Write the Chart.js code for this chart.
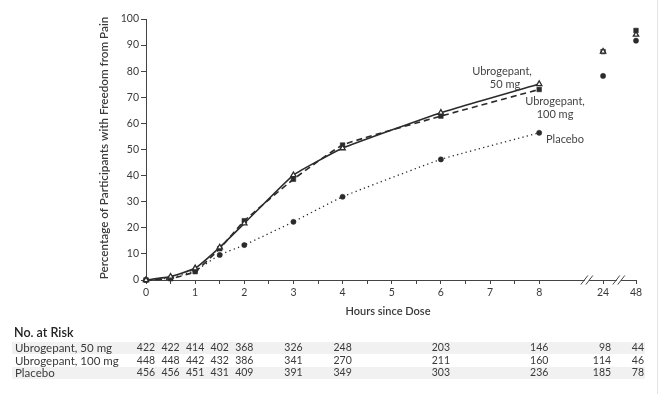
<!DOCTYPE html>
<html>
<head>
<meta charset="utf-8">
<title>Freedom from Pain</title>
<script src="https://cdn.jsdelivr.net/npm/chart.js@4.4.1/dist/chart.umd.min.js"></script>
<style>
    html, body { margin: 0; padding: 0; background: #fff; }
    #wrap { position: relative; width: 660px; height: 394px; }
    #edge { position: absolute; right: 2px; top: 0; width: 1px; height: 394px; background: #e4e4e4; }
</style>
</head>
<body>
<div id="wrap">
    <canvas id="chart" width="660" height="394"></canvas>
    <div id="edge"></div>
</div>
<script>
// Hours where the curves were assessed (lines are drawn up to 8 h)
const hours = [0, 0.5, 1, 1.5, 2, 3, 4, 6, 8];
const lateHours = [24, 48];

// Percentage of participants with freedom from pain
const ubro50 = [0, 1.3, 4.5, 12.5, 21.7, 40.2, 50.5, 64.1, 75.1];
const ubro100 = [0, 0.5, 3.2, 12.0, 22.7, 38.6, 51.7, 62.8, 73.0];
const placebo = [0, 0.8, 3.6, 9.6, 13.4, 22.3, 31.9, 46.2, 56.4];
const ubro50Late = [87.5, 94.0];
const ubro100Late = [87.5, 95.6];
const placeboLate = [78.2, 91.7];

// Axis ticks
const xTickHours = [0, 0.5, 1, 1.5, 2, 2.5, 3, 3.5, 4, 4.5, 5, 5.5, 6, 6.5, 7, 7.5, 8, 24, 48];
const xTickLabels = ['0', '', '1', '', '2', '', '3', '', '4', '', '5', '', '6', '', '7', '', '8', '24', '48'];
const yTicks = [0, 10, 20, 30, 40, 50, 60, 70, 80, 90, 100];

// No. at risk table
const riskHours = [0, 0.5, 1, 1.5, 2, 3, 4, 6, 8, 24, 48];
const riskRows = ['Ubrogepant, 50 mg', 'Ubrogepant, 100 mg', 'Placebo'];
const risk50 = [422, 422, 414, 402, 368, 326, 248, 203, 146, 98, 44];
const risk100 = [448, 448, 442, 432, 386, 341, 270, 211, 160, 114, 46];
const riskPlacebo = [456, 456, 451, 431, 409, 391, 349, 303, 236, 185, 78];

// Compressed axis after the break: 24 h and 48 h sit just past 8 h
const breakAt = { 24: 9.3, 48: 9.97 };
const axisPos = h => (h <= 8 ? h : breakAt[h]);
const X_MAX = 9.97;
const BREAKS = [8.97, 9.62];

const INK = '#2b2b2b';
const TEXT = '#3a3a3a';
const FONT = 'Lato, "Open Sans", sans-serif';

const toPoints = (xs, ys) => xs.map((h, i) => ({ x: axisPos(h), y: ys[i] }));

function series(data, style, late) {
    const marker = {
        pointStyle: style.pointStyle,
        pointRadius: style.pointRadius,
        pointBorderWidth: style.pointBorderWidth,
        pointBorderColor: INK,
        pointBackgroundColor: style.pointBackgroundColor || INK
    };
    return [
        Object.assign({
            data: toPoints(hours, data),
            borderColor: INK,
            tension: 0.12,
            fill: false,
            clip: false
        }, style, marker),
        Object.assign({
            data: toPoints(lateHours, late),
            showLine: false,
            clip: false
        }, marker)
    ];
}

const datasets = [
    ...series(ubro50, {
        borderWidth: 1.6,
        pointStyle: 'triangle',
        pointRadius: 3.1,
        pointBorderWidth: 1.3,
        pointBackgroundColor: '#fff'
    }, ubro50Late),
    ...series(ubro100, {
        borderWidth: 1.6,
        borderDash: [6, 4],
        pointStyle: 'rect',
        pointRadius: 3.3,
        pointBorderWidth: 0.5
    }, ubro100Late),
    ...series(placebo, {
        borderWidth: 1.3,
        borderDash: [1.3, 3.2],
        pointStyle: 'circle',
        pointRadius: 2.6,
        pointBorderWidth: 0.5
    }, placeboLate)
];

// Titles, curve labels, axis breaks and the at-risk table
const extrasPlugin = {
    id: 'extras',
    afterDraw(chart) {
        const ctx = chart.ctx;
        const xs = chart.scales.x;
        const area = chart.chartArea;
        ctx.save();

        // axis breaks on the x axis
        BREAKS.forEach(b => {
            const px = xs.getPixelForValue(b);
            const y = area.bottom;
            ctx.fillStyle = '#fff';
            ctx.fillRect(px - 2, y - 2, 4, 4);
            ctx.strokeStyle = '#444';
            ctx.lineWidth = 1;
            [-2.5, 2.5].forEach(off => {
                ctx.beginPath();
                ctx.moveTo(px + off - 3.5, y + 4.5);
                ctx.lineTo(px + off + 3.5, y - 4.5);
                ctx.stroke();
            });
        });

        // y axis title
        ctx.fillStyle = TEXT;
        ctx.font = '600 11.7px ' + FONT;
        ctx.textAlign = 'center';
        ctx.textBaseline = 'middle';
        ctx.save();
        ctx.translate(104, 148);
        ctx.rotate(-Math.PI / 2);
        ctx.fillText('Percentage of Participants with Freedom from Pain', 0, 0);
        ctx.restore();

        // x axis title
        ctx.font = '600 11px ' + FONT;
        ctx.fillText('Hours since Dose', 388, 311);

        // curve labels
        ctx.font = '11px ' + FONT;
        ctx.fillStyle = '#444';
        ctx.fillText('Ubrogepant,', 502, 71);
        ctx.fillText('50 mg', 505, 84);
        ctx.fillText('Ubrogepant,', 555, 101);
        ctx.fillText('100 mg', 555, 114);
        ctx.textAlign = 'left';
        ctx.fillText('Placebo', 546, 139);

        // at-risk table
        ctx.font = '600 12.5px ' + FONT;
        ctx.fillStyle = '#222';
        ctx.fillText('No. at Risk', 14, 333);

        const rows = [risk50, risk100, riskPlacebo];
        const rowY = [348, 361, 373];
        rows.forEach((vals, r) => {
            if (r !== 1) {
                ctx.fillStyle = '#f1f1f1';
                ctx.fillRect(12, rowY[r] - 6, 633, 12);
            }
            ctx.fillStyle = TEXT;
            ctx.font = '11.5px ' + FONT;
            ctx.textAlign = 'left';
            ctx.fillText(riskRows[r], 15, rowY[r]);
            ctx.font = '10.5px ' + FONT;
            vals.forEach((v, i) => {
                const h = riskHours[i];
                const px = xs.getPixelForValue(axisPos(h));
                if (h > 8) {
                    ctx.textAlign = 'right';
                    ctx.fillText(String(v), px + 8, rowY[r]);
                } else {
                    ctx.textAlign = 'center';
                    ctx.fillText(String(v), px, rowY[r]);
                }
            });
        });

        ctx.restore();
    }
};

const chart = new Chart(document.getElementById('chart'), {
    type: 'line',
    data: { datasets },
    options: {
        responsive: false,
        animation: false,
        layout: { padding: { left: 0, right: 24, top: 19, bottom: 0 } },
        plugins: {
            legend: { display: false },
            tooltip: { enabled: false }
        },
        scales: {
            x: {
                type: 'linear',
                min: 0,
                max: X_MAX,
                afterBuildTicks: scale => {
                    scale.ticks = xTickHours.map(h => ({ value: axisPos(h) }));
                },
                afterFit: scale => { scale.height = 114; },
                ticks: {
                    autoSkip: false,
                    maxRotation: 0,
                    padding: 2,
                    color: TEXT,
                    font: { family: FONT, size: 10.5 },
                    callback: (value, index) => xTickLabels[index]
                },
                grid: { drawOnChartArea: false, drawTicks: true, tickLength: 4, color: '#444' },
                border: { color: '#444', width: 1 }
            },
            y: {
                min: 0,
                max: 100,
                afterBuildTicks: scale => {
                    scale.ticks = yTicks.map(v => ({ value: v }));
                },
                afterFit: scale => { scale.width = 146; },
                ticks: {
                    padding: 2,
                    color: TEXT,
                    font: { family: FONT, size: 10.5 }
                },
                grid: { drawOnChartArea: false, drawTicks: true, tickLength: 5, color: '#444' },
                border: { color: '#444', width: 1 }
            }
        }
    },
    plugins: [extrasPlugin]
});
</script>
</body>
</html>
